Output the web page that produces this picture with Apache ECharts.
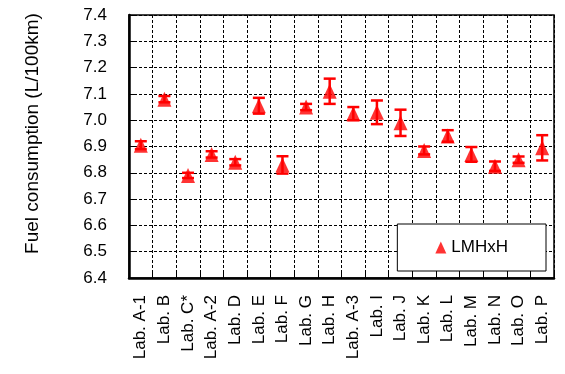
<!DOCTYPE html>
<html>
<head>
<meta charset="utf-8">
<script src="https://cdn.jsdelivr.net/npm/echarts@6/dist/echarts.min.js"></script>
<style>html,body{margin:0;padding:0;background:#fff;}#c{width:565px;height:374px;}</style>
</head>
<body>
<div id="c"></div>
<script>
const categories = ['Lab. A-1','Lab. B','Lab. C*','Lab. A-2','Lab. D','Lab. E','Lab. F','Lab. G','Lab. H','Lab. A-3','Lab. I','Lab. J','Lab. K','Lab. L','Lab. M','Lab. N','Lab. O','Lab. P'];
const means = [6.905,7.08,6.79,6.87,6.84,7.055,6.83,7.05,7.11,7.025,7.03,6.99,6.885,6.94,6.87,6.825,6.85,6.895];
const errors = [0.015,0.012,0.01,0.012,0.012,0.03,0.033,0.012,0.048,0.025,0.045,0.05,0.015,0.022,0.028,0.018,0.012,0.048];
const seriesName = 'LMHxH';
const yAxisName = 'Fuel consumption (L/100km)';

const FONT = 'Liberation Sans, Arial, sans-serif';
const chart = echarts.init(document.getElementById('c'), null, {renderer:'canvas'});
const errData = means.map((m,i)=>[i,m,errors[i]]);
chart.setOption({
  animation:false,
  backgroundColor:'#fff',
  grid:{left:129,right:11,top:15,bottom:96,show:true,borderColor:'#000',borderWidth:1.5,backgroundColor:'transparent'},
  legend:{
    data:[{name:seriesName,icon:'triangle'}],
    right:19, top:224,
    backgroundColor:'#fff', borderColor:'#000', borderWidth:1,
    padding:[15,38,15,38],
    itemWidth:11,itemHeight:12,itemGap:5,
    textStyle:{fontFamily:FONT,fontSize:17,color:'#000'}
  },
  xAxis:{
    type:'category', data:categories, boundaryGap:true,
    axisLine:{show:true,lineStyle:{color:'#000',width:2.5}},
    axisTick:{show:true,inside:true,length:6,interval:0,lineStyle:{color:'#000',width:1}},
    axisLabel:{interval:0,rotate:90,margin:17,fontFamily:FONT,fontSize:17,color:'#000'},
    splitLine:{show:true,interval:0,lineStyle:{color:'#000',type:[3,2],width:1}}
  },
  yAxis:{
    type:'value', min:6.4, max:7.4, interval:0.1,
    name:yAxisName, nameLocation:'middle', nameGap:87,
    nameTextStyle:{fontFamily:FONT,fontSize:19,color:'#000',padding:[0,0,0,26]},
    axisLine:{show:true,lineStyle:{color:'#000',width:2.5}},
    axisTick:{show:true,inside:true,length:6,lineStyle:{color:'#000',width:1}},
    axisLabel:{margin:22,fontFamily:FONT,fontSize:17,color:'#000',formatter:v=>v.toFixed(1)},
    splitLine:{show:true,lineStyle:{color:'#000',type:[3,2],width:1}}
  },
  series:[
    {
      name:'err', type:'custom', data:errData, z:3,
      renderItem:function(params,api){
        const x=api.value(0), m=api.value(1), e=api.value(2);
        const t=api.coord([x,m+e]), b=api.coord([x,m-e]);
        const hw=6, st={stroke:'#ff0000',lineWidth:2.5};
        return {type:'group',children:[
          {type:'line',shape:{x1:t[0],y1:t[1],x2:b[0],y2:b[1]},style:st},
          {type:'line',shape:{x1:t[0]-hw,y1:t[1],x2:t[0]+hw,y2:t[1]},style:st},
          {type:'line',shape:{x1:b[0]-hw,y1:b[1],x2:b[0]+hw,y2:b[1]},style:st}
        ]};
      }
    },
    {
      name:seriesName, type:'scatter', data:means, symbol:'triangle', symbolSize:[14,15], z:4,
      itemStyle:{color:'#ff0000'}
    }
  ]
});
</script>
</body>
</html>
